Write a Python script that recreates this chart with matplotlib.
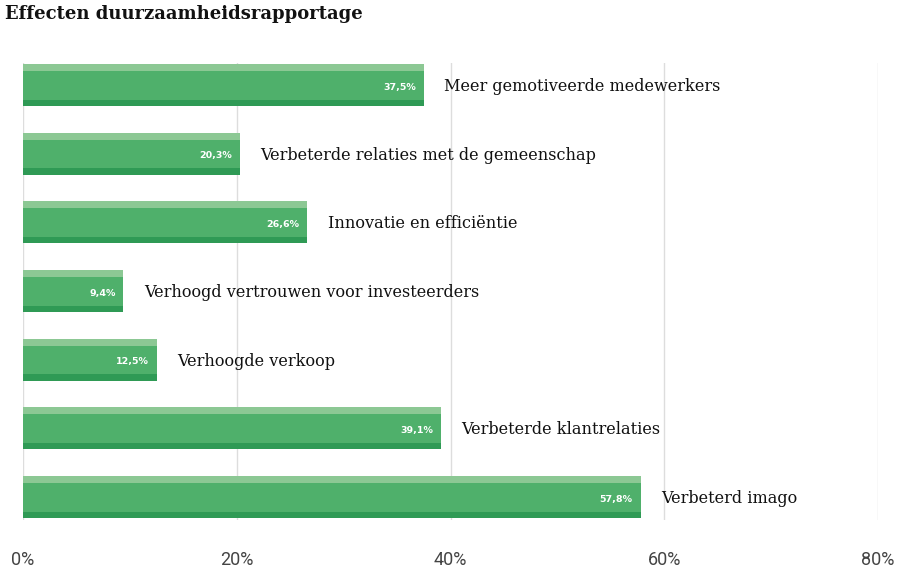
import matplotlib.pyplot as plt
from matplotlib.ticker import FuncFormatter

# Data
categories = ['Meer gemotiveerde medewerkers',
              'Verbeterde relaties met de gemeenschap',
              'Innovatie en efficiëntie',
              'Verhoogd vertrouwen voor investeerders',
              'Verhoogde verkoop',
              'Verbeterde klantrelaties',
              'Verbeterd imago']
values = [37.5, 20.3, 26.6, 9.4, 12.5, 39.1, 57.8]
ticks = [0, 20, 40, 60, 80]

main_color = '#4fb06b'
light_color = '#8cc894'
dark_color = '#2f9a55'

fig = plt.figure(figsize=(9, 5.75), dpi=100)
ax = fig.add_axes([23 / 900, 1 - 520 / 575, 855 / 900, 457 / 575])

pos = list(range(len(categories)))
h = 0.61
top_h = 0.10
bot_h = 0.09

# main bar plus light top strip and dark bottom strip
ax.barh(pos, values, height=h, color=main_color, zorder=2)
ax.barh([p - h / 2 + top_h / 2 for p in pos], values, height=top_h, color=light_color, zorder=3)
ax.barh([p + h / 2 - bot_h / 2 for p in pos], values, height=bot_h, color=dark_color, zorder=3)

for p, v, c in zip(pos, values, categories):
    ax.text(v - 0.75, p + 0.03, f'{v:.1f}%'.replace('.', ','), ha='right', va='center',
            color='white', fontsize=6.8, fontweight='bold', family='DejaVu Sans', zorder=4)
    ax.text(v + 1.9, p + 0.02, c, ha='left', va='center', fontsize=11.6,
            family='DejaVu Serif', color='#111111')

ax.set_xlim(0, 80)
ax.set_ylim(6 + 23 / 68.67, -22 / 68.67)
ax.set_xticks(ticks)
ax.xaxis.set_major_formatter(FuncFormatter(lambda x, _: f'{x:.0f}%'))
ax.set_yticks([])
ax.grid(axis='x', color='#dddddd', linewidth=1, zorder=0)
ax.tick_params(axis='x', length=0, pad=22, labelsize=13, labelcolor='#444444')
for lab in ax.get_xticklabels():
    lab.set_family('Roboto')
for s in ax.spines.values():
    s.set_visible(False)

fig.text(5 / 900, 1 - 14 / 575, 'Effecten duurzaamheidsrapportage', ha='left', va='center',
         fontsize=13, fontweight='bold', family='DejaVu Serif', color='#111111')

plt.savefig('out.png')
